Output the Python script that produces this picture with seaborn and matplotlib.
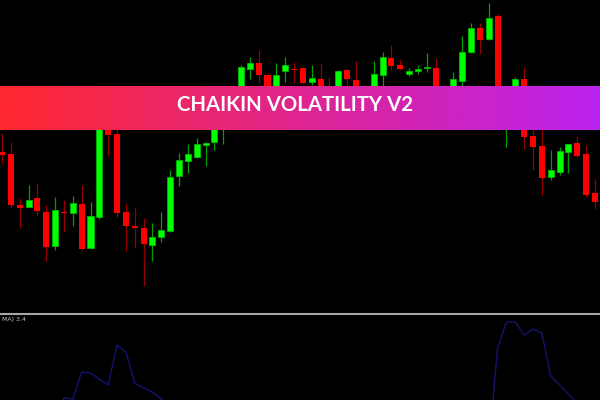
import numpy as np
import pandas as pd
import matplotlib
matplotlib.use('Agg')
import matplotlib.pyplot as plt
import seaborn as sns
from matplotlib.colors import LinearSegmentedColormap
from matplotlib.lines import Line2D

# OHLC (arbitrary price units)
opens = [148, 146, 95, 93, 102, 88, 54, 88, 87, 96, 52, 83, 180, 166, 88, 74, 72, 55, 63, 69,
         124, 139, 143, 155, 158, 174, 190, 208, 231, 237, 225, 208, 229, 231, 232, 218, 221, 210, 205, 230,
         220, 205, 208, 225, 242, 235, 226, 229, 232, 232, 205, 200, 219, 248, 272, 261, 284, 175, 200, 221,
         164, 154, 123, 128, 148, 157, 146, 107]
highs = [167, 158, 102, 115, 117, 95, 103, 100, 104, 115, 98, 190, 188, 172, 97, 92, 82, 77, 88, 130,
         147, 156, 162, 158, 176, 200, 210, 235, 243, 250, 227, 237, 243, 238, 233, 235, 237, 223, 230, 231,
         239, 213, 239, 248, 255, 241, 232, 235, 247, 242, 210, 228, 264, 277, 277, 297, 286, 195, 223, 233,
         172, 172, 150, 153, 156, 164, 155, 121]
lows = [137, 93, 72, 93, 85, 39, 50, 68, 74, 50, 51, 81, 144, 83, 49, 52, 14, 39, 58, 68,
        114, 127, 142, 134, 150, 156, 182, 204, 221, 217, 205, 203, 218, 217, 216, 215, 202, 195, 200, 212,
        204, 200, 205, 210, 230, 230, 224, 226, 228, 200, 190, 196, 212, 247, 246, 260, 174, 153, 196, 151,
        130, 105, 120, 125, 127, 143, 103, 91]
closes = [145, 95, 92, 100, 89, 53, 90, 87, 97, 51, 84, 182, 165, 87, 74, 72, 56, 63, 70, 123,
          140, 146, 156, 157, 172, 190, 205, 233, 237, 225, 210, 225, 235, 230, 217, 222, 208, 200, 229, 221,
          208, 210, 226, 243, 234, 231, 229, 231, 233, 205, 195, 221, 248, 272, 260, 282, 180, 188, 221, 163,
          153, 122, 130, 149, 156, 144, 105, 98]

# Chaikin volatility line in the lower window (most of it sits below the visible range)
chv = [-45, -42, -38, -35, -30, -24, -14, 2, 1, 28, 27, 21, 15, 55, 48, 17, 12, 8, 1, -8,
       -15, -22, -28, -32, -35, -30, -26, -24, -30, -34, -38, -40, -42, -44, -45, -46, -44, -42, -40, -41,
       -43, -45, -44, -40, -38, -42, -46, -50, -52, -48, -46, -44, -40, -36, -45, -48, 52, 78, 78, 65,
       71, 67, 24, 15, 6, -3, -10, -14]

title = 'CHAIKIN VOLATILITY V2'
indicator_label = 'MA) 3.4'

sns.set_style('dark', {'axes.facecolor': 'black', 'figure.facecolor': 'black'})
plt.rcParams['font.family'] = ['Lato', 'DejaVu Sans']

df = pd.DataFrame({'open': opens, 'high': highs, 'low': lows, 'close': closes, 'chv': chv})
df['idx'] = np.arange(len(df))
df['up'] = df['close'] >= df['open']
df['body_lo'] = df[['open', 'close']].min(axis=1)
df['body_h'] = (df['close'] - df['open']).abs().clip(lower=1.3)

fig = plt.figure(figsize=(6, 4), dpi=100)
ax = fig.add_axes([0, 88 / 400, 1, 312 / 400])
ax2 = fig.add_axes([0, 0, 1, 85 / 400])

xlim = (-2 / 8.85, 598 / 8.85)

# candles
up = df[df['up']]
dn = df[~df['up']]
ax.vlines(up['idx'], up['low'], up['high'], colors='#00a000', lw=0.9, zorder=1)
ax.vlines(dn['idx'], dn['low'], dn['high'], colors='#900000', lw=0.9, zorder=1)
ax.bar(up['idx'], up['body_h'], bottom=up['body_lo'], width=0.68, color='#00ff00',
       edgecolor='#00c000', linewidth=0.5, zorder=2)
ax.bar(dn['idx'], dn['body_h'], bottom=dn['body_lo'], width=0.68, color='#ff0000',
       linewidth=0, zorder=2)
ax.set_xlim(*xlim)
ax.set_ylim(-12, 300)

# indicator window
sns.lineplot(data=df, x='idx', y='chv', ax=ax2, color='#14146e', linewidth=1.0)
ax2.set_xlim(*xlim)
ax2.set_ylim(0, 85)

for a in (ax, ax2):
    a.set_xticks([])
    a.set_yticks([])
    a.set_xlabel('')
    a.set_ylabel('')
    for s in a.spines.values():
        s.set_visible(False)

fig.add_artist(Line2D([0, 1], [1 - 313.5 / 400] * 2, color='#a8a8a8', lw=1.5))
fig.text(2 / 600, 1 - 319 / 400, indicator_label, ha='left', va='center',
         fontsize=4.5, color='#c8c8c8', family=['DejaVu Sans'])

# gradient banner
bax = fig.add_axes([0, 1 - 130 / 400, 1, 44 / 400])
cmap = LinearSegmentedColormap.from_list('banner', ['#ff282d', '#de2590', '#bc22f0'])
bax.imshow(np.linspace(0, 1, 512).reshape(1, -1), aspect='auto', cmap=cmap, extent=[0, 1, 0, 1])
bax.set_xlim(0, 1)
bax.set_ylim(0, 1)
bax.axis('off')
bax.text(0.491, 0.43, title, ha='center', va='baseline', color='white',
         fontsize=14.7, fontweight='bold')

fig.savefig('out.png', dpi=100, facecolor='black')
